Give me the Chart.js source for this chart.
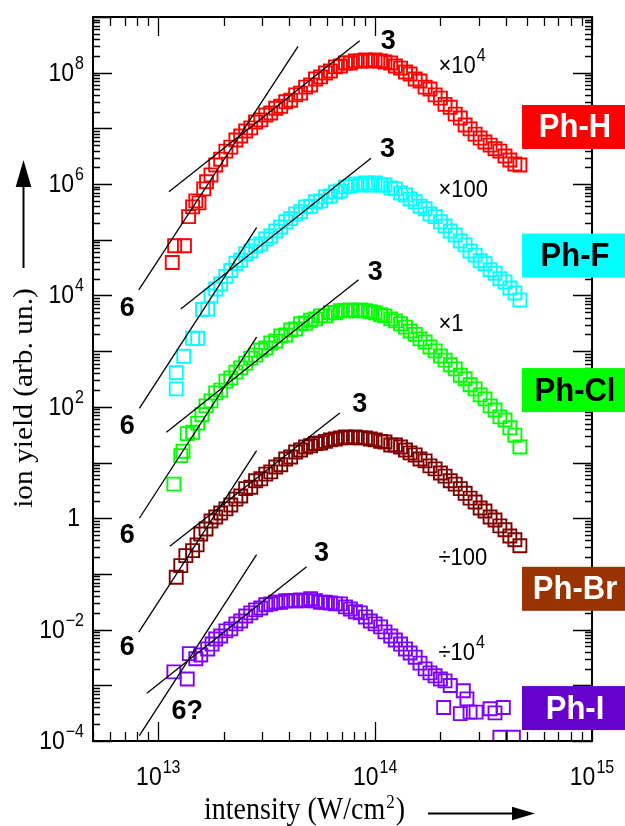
<!DOCTYPE html>
<html>
<head>
<meta charset="utf-8">
<script src="https://cdn.jsdelivr.net/npm/chart.js@4.4.1/dist/chart.umd.min.js"></script>
<style>
  html, body { margin: 0; padding: 0; background: #fff; }
  canvas { display: block; }
</style>
</head>
<body>
<canvas id="grafico" width="625" height="826"></canvas>
<script>
// intensity scan, in units of 1e13 W/cm2
const scanI = [1.75, 1.84, 1.94, 2.05, 2.16, 2.28, 2.40, 2.53, 2.67, 2.81, 2.97, 3.13, 3.30, 3.48, 3.67, 3.87,
  4.08, 4.30, 4.53, 4.78, 5.04, 5.31, 5.60, 5.90, 6.22, 6.56, 6.92, 7.30, 7.69, 8.11, 8.55, 9.02, 9.50, 10.0,
  10.6, 11.1, 11.8, 12.4, 13.1, 13.8, 14.5, 15.3, 16.1, 17.0, 17.9, 18.9, 20.0, 21.0, 22.2, 23.4, 24.7, 26.0,
  27.4, 28.9, 30.5, 32.1, 33.9, 35.7, 37.6, 39.7, 41.8, 44.1, 46.5];

// Ph-H (x 1e4)
const phH_I = [1.16, 1.19, 1.32, 1.38, 1.44, 1.49, 1.54, 1.62, 1.67].concat(scanI);
const phH_Y = [3.9e4, 7.8e4, 7.8e4, 2.6e5, 3.9e5, 5.0e5, 4.6e5, 8.2e5, 1.1e6,
  1.46e6, 2.2e6, 2.8e6, 3.9e6, 4.6e6, 6.2e6, 7.3e6, 9.0e6, 1.02e7, 1.30e7, 1.42e7, 1.74e7, 1.89e7, 2.3e7, 2.5e7,
  3.0e7, 3.2e7, 4.0e7, 4.3e7, 5.5e7, 6.0e7, 7.7e7, 8.4e7, 9.9e7, 1.07e8, 1.27e8, 1.32e8, 1.49e8, 1.49e8, 1.62e8,
  1.62e8, 1.69e8, 1.62e8, 1.69e8, 1.62e8, 1.56e8, 1.49e8, 1.32e8, 1.21e8, 1.03e8, 9.5e7, 7.7e7, 7.1e7, 5.5e7,
  5.1e7, 4.0e7, 3.5e7, 2.7e7, 2.4e7, 1.8e7, 1.54e7, 1.15e7, 9.8e6, 7.9e6, 6.7e6, 5.7e6, 5.0e6, 4.3e6, 3.9e6,
  3.2e6, 2.7e6, 2.3e6, 2.2e6];

// Ph-F (x 100)
const phF_I = [1.21, 1.21, 1.31, 1.44, 1.52, 1.60, 1.69].concat(scanI);
const phF_Y = [2.1e2, 4.1e2, 8.1e2, 1.7e3, 1.7e3, 5.6e3, 5.7e3,
  9.8e3, 1.31e4, 1.61e4, 2.2e4, 2.8e4, 3.8e4, 4.3e4, 5.6e4, 6.3e4, 7.7e4, 8.4e4, 1.03e5, 1.17e5, 1.44e5, 1.70e5,
  2.1e5, 2.4e5, 2.9e5, 3.2e5, 3.9e5, 4.0e5, 4.8e5, 5.0e5, 5.9e5, 6.1e5, 7.2e5, 7.5e5, 8.9e5, 9.2e5, 1.0e6,
  9.6e5, 1.05e6, 9.6e5, 1.05e6, 9.6e5, 9.6e5, 8.5e5, 8.2e5, 6.9e5, 6.4e5, 5.4e5, 4.8e5, 4.0e5, 3.6e5, 2.9e5,
  2.6e5, 2.1e5, 1.77e5, 1.44e5, 1.22e5, 9.5e4, 8.1e4, 6.3e4, 5.3e4, 4.2e4, 3.7e4, 2.9e4, 2.5e4, 2.0e4, 1.75e4,
  1.36e4, 1.11e4, 8.3e3];

// Ph-Cl (x 1)
const phCl_I = [1.18, 1.27, 1.30, 1.36, 1.44, 1.52, 1.59, 1.66].concat(scanI);
const phCl_Y = [4.1, 13.3, 16, 33, 35, 51, 72, 104,
  128, 178, 200, 290, 330, 420, 500, 610, 750, 850, 1050, 1140, 1400, 1520, 1870, 1950, 2400, 2500, 3100, 3200,
  3600, 3800, 4300, 4300, 4900, 4900, 5300, 5300, 5500, 5300, 5500, 5300, 5100, 4900, 4500, 4300, 3800, 3500,
  3100, 2700, 2300, 2000, 1660, 1460, 1190, 1010, 820, 690, 570, 480, 370, 320, 250, 210, 164, 139, 104, 88,
  66, 58, 42, 31, 19];

// Ph-Br (/ 100)
const phBr_I = [1.21, 1.27, 1.34, 1.44, 1.51, 1.57, 1.66].concat(scanI);
const phBr_Y = [0.087, 0.141, 0.213, 0.262, 0.332, 0.52, 0.64,
  0.89, 1.05, 1.24, 1.47, 1.73, 2.2, 2.5, 3.4, 3.6, 4.7, 5.1, 6.2, 6.8, 8.3, 9.1, 11.6, 12.6, 15.5, 16.8, 19,
  20, 22, 22.5, 24, 25.5, 26.5, 27.7, 28.8, 27.7, 28.8, 27.7, 27.7, 26.5, 25.5, 24, 23.4, 20.7, 20.7, 19, 16.8,
  14.9, 13.7, 11.6, 10.7, 8.7, 7.7, 6.5, 5.7, 4.7, 4.1, 3.4, 2.8, 2.3, 1.96, 1.53, 1.35, 1.05, 0.93, 0.73,
  0.62, 0.48, 0.41, 0.32];

// Ph-I (/ 1e4)
const phI_I = [1.18, 1.36, 1.39, 1.49, 1.57, 1.69, 1.77,
  1.84, 1.94, 2.05, 2.16, 2.28, 2.40, 2.53, 2.67, 2.81, 2.97, 3.13, 3.30, 3.48, 3.67, 3.87, 4.08, 4.30, 4.53,
  4.78, 5.04, 5.31, 5.60, 5.90, 6.22, 6.56, 6.92, 7.30, 7.69, 8.11, 8.55, 9.02, 9.50, 10.0, 10.6, 11.1, 11.8,
  12.4, 13.1, 13.8, 14.5, 15.3, 16.1, 17.0, 17.9, 18.9, 20.0, 21.0,
  20.7, 22.2, 24.7, 25.5, 26.5, 27.4, 29.2, 33.9, 35.7, 39.0, 37.6, 43.4];
const phI_Y = [1.74e-3, 1.30e-3, 3.7e-3, 3.0e-3, 3.5e-3, 4.5e-3, 5.5e-3,
  6.8e-3, 7.7e-3, 9.5e-3, 1.03e-2, 1.27e-2, 1.43e-2, 1.76e-2, 2.0e-2, 2.26e-2, 2.45e-2, 2.8e-2, 2.9e-2, 3.1e-2,
  3.1e-2, 3.3e-2, 3.3e-2, 3.3e-2, 3.4e-2, 3.3e-2, 3.6e-2, 3.3e-2, 3.1e-2, 3.1e-2, 3.0e-2, 2.9e-2, 2.9e-2,
  2.56e-2, 2.35e-2, 2.1e-2, 2.0e-2, 1.69e-2, 1.43e-2, 1.27e-2, 1.12e-2, 9.1e-3, 7.7e-3, 6.5e-3, 5.5e-3, 4.5e-3,
  3.8e-3, 3.2e-3, 2.5e-3, 1.97e-3, 1.67e-3, 1.48e-3, 1.30e-3, 1.20e-3,
  4.0e-4, 9.9e-4, 3.1e-4, 8.0e-4, 5.7e-4, 3.3e-4, 3.3e-4, 3.8e-4, 3.2e-4, 4.0e-4, 1.17e-4, 1.17e-4];

// power-law guide lines (slope 6 and slope 3), end points
const fit6_I = [[0.813, 4.41], [0.818, 2.84], [0.818, 2.84], [0.813, 2.84], [0.818, 2.84]];
const fit6_Y = [[1.26e4, 2.98e8], [94, 1.65e5], [1.0, 1.78e3], [8.98e-3, 16.4], [1.25e-4, 0.222]];
const fit3_I = [[1.12, 8.49], [1.27, 9.57], [1.09, 8.39], [1.13, 6.87], [0.885, 4.83]];
const fit3_Y = [[7.3e5, 3.76e8], [5.7e3, 2.9e6], [35, 1.92e4], [0.314, 77.7], [7.2e-4, 0.135]];

const especies = ['Ph-H', 'Ph-F', 'Ph-Cl', 'Ph-Br', 'Ph-I'];
const colores = ['#ff0000', '#00ffff', '#00ff00', '#800000', '#8000ff'];
const cajaColor = ['#ff0000', '#00ffff', '#00ff00', '#993300', '#6600cc'];
const cajaTexto = ['#ffffff', '#000000', '#000000', '#ffffff', '#ffffff'];
const cajaY = [1.06e7, 5.2e4, 2.0e2, 5.4e-2, 3.9e-4];

// scale factors written next to each curve
const factorBase = ['\u00d710', '\u00d7100', '\u00d71', '\u00f7100', '\u00f710'];
const factorExp = ['4', '', '', '', '4'];
const factorY = [9.9e7, 5.8e5, 2.3e3, 0.145, 2.8e-3];
const factorI = 19.6;

// slope labels
const tres_I = [11.5, 11.4, 10.0, 8.5, 5.66];
const tres_Y = [3.9e8, 4.5e6, 2.8e4, 1.17e2, 0.248];
const seis_I = [0.72, 0.72, 0.72, 0.72, 1.36];
const seis_Y = [6.1e3, 47, 0.52, 5.0e-3, 3.6e-4];
const seis_txt = ['6', '6', '6', '6', '6?'];

// tick labels
const yTicks = [1e8, 1e6, 1e4, 1e2, 1, 1e-2, 1e-4];
const yTickExp = ['8', '6', '4', '2', '', '\u22122', '\u22124'];
const xTicks = [1e13, 1e14, 1e15];
const xTickExp = ['13', '14', '15'];

const SANS = '"Liberation Sans", Arial, sans-serif';
const SERIF = '"Liberation Serif", "Times New Roman", serif';
const ESTIRA = 1.1;

function puntos(I, Y) {
  return I.map((v, i) => ({ x: v * 1e13, y: Y[i] }));
}

function texto(ctx, str, x, y, font, align, sy) {
  ctx.save();
  ctx.translate(x, y);
  ctx.scale(1, sy || ESTIRA);
  ctx.font = font;
  ctx.textAlign = align;
  ctx.textBaseline = 'alphabetic';
  ctx.fillText(str, 0, 0);
  ctx.restore();
}

// "10" with a raised exponent
function potencia(ctx, base, exp, x, y, align, fb, fe, sube) {
  ctx.font = fb;
  const wb = ctx.measureText(base).width;
  ctx.font = fe;
  const we = exp ? ctx.measureText(exp).width + 1 : 0;
  const total = wb + we;
  let x0 = x;
  if (align === 'right') x0 = x - total;
  if (align === 'center') x0 = x - total / 2;
  texto(ctx, base, x0, y, fb, 'left');
  if (exp) texto(ctx, exp, x0 + wb + 1, y - sube, fe, 'left');
}

function flecha(ctx, x1, y1, x2, y2, largo, ancho) {
  const ang = Math.atan2(y2 - y1, x2 - x1);
  const bx = x2 - largo * Math.cos(ang), by = y2 - largo * Math.sin(ang);
  ctx.beginPath();
  ctx.moveTo(x1, y1);
  ctx.lineTo(bx, by);
  ctx.stroke();
  ctx.beginPath();
  ctx.moveTo(x2, y2);
  ctx.lineTo(bx - ancho * Math.sin(ang), by + ancho * Math.cos(ang));
  ctx.lineTo(bx + ancho * Math.sin(ang), by - ancho * Math.cos(ang));
  ctx.closePath();
  ctx.fill();
}

const dibujo = {
  id: 'dibujo',
  afterDatasetsDraw(chart) {
    const ctx = chart.ctx;
    const a = chart.chartArea;
    const xs = chart.scales.x, ys = chart.scales.y;
    ctx.save();
    ctx.strokeStyle = '#000';
    ctx.fillStyle = '#000';

    // ticks on all four sides
    ctx.lineWidth = 1.3;
    ctx.beginPath();
    for (let e = 12; e <= 15; e++) {
      for (let m = 1; m <= 9; m++) {
        const v = m * Math.pow(10, e);
        if (v < xs.min * 0.999 || v > xs.max * 1.001) continue;
        const px = Math.round(xs.getPixelForValue(v)) + 0.5;
        const l = m === 1 ? 19 : 9;
        ctx.moveTo(px, a.bottom); ctx.lineTo(px, a.bottom - l);
        ctx.moveTo(px, a.top); ctx.lineTo(px, a.top + l);
      }
    }
    for (let e = -4; e <= 9; e++) {
      for (let m = 1; m <= 9; m++) {
        const v = m * Math.pow(10, e);
        if (v < ys.min * 0.999 || v > ys.max * 1.001) continue;
        const py = Math.round(ys.getPixelForValue(v)) + 0.5;
        const l = m === 1 ? 19 : 7;
        ctx.moveTo(a.left, py); ctx.lineTo(a.left + l, py);
        ctx.moveTo(a.right, py); ctx.lineTo(a.right - l, py);
      }
    }
    ctx.stroke();

    // frame
    ctx.lineWidth = 2;
    ctx.strokeRect(a.left, a.top, a.right - a.left, a.bottom - a.top);

    // tick labels
    const fb = '23px ' + SANS, fe = '16px ' + SANS;
    yTicks.forEach((v, i) => {
      const py = ys.getPixelForValue(v);
      if (yTickExp[i]) potencia(ctx, '10', yTickExp[i], 84, py + 8, 'right', fb, fe, 12);
      else potencia(ctx, '1', '', 80, py + 8, 'right', fb, fe, 12);
    });
    xTicks.forEach((v, i) => {
      const px = xs.getPixelForValue(v);
      potencia(ctx, '10', xTickExp[i], px, 785, 'center', fb, fe, 12);
    });

    // slope labels
    const fn = 'bold 27px ' + SANS;
    tres_I.forEach((v, i) => {
      texto(ctx, '3', xs.getPixelForValue(v * 1e13), ys.getPixelForValue(tres_Y[i]) + 9, fn, 'center', 1.02);
    });
    seis_I.forEach((v, i) => {
      texto(ctx, seis_txt[i], xs.getPixelForValue(v * 1e13), ys.getPixelForValue(seis_Y[i]) + 9, fn, 'center', 1.02);
    });

    // scale factors
    const ff = '22px ' + SANS;
    factorBase.forEach((b, i) => {
      potencia(ctx, b, factorExp[i], xs.getPixelForValue(factorI * 1e13), ys.getPixelForValue(factorY[i]), 'left', ff, fe, 12);
    });

    // coloured name boxes on the right
    const cx0 = 522;
    especies.forEach((n, i) => {
      const cy = ys.getPixelForValue(cajaY[i]);
      ctx.fillStyle = cajaColor[i];
      ctx.fillRect(cx0, cy - 22, chart.width - cx0, 44);
      ctx.fillStyle = cajaTexto[i];
      texto(ctx, n, 575, cy + 10.5, 'bold 31px ' + SANS, 'center');
    });
    ctx.fillStyle = '#000';

    // axis titles
    const ft = '28px ' + SERIF;
    ctx.font = ft;
    const t1 = 'intensity (W/cm';
    const w1 = ctx.measureText(t1).width;
    texto(ctx, t1, 204, 819, ft, 'left');
    texto(ctx, '2', 204 + w1 + 1, 808, '17px ' + SERIF, 'left');
    ctx.font = '17px ' + SERIF;
    const w2 = ctx.measureText('2').width;
    texto(ctx, ')', 204 + w1 + w2 + 2, 819, ft, 'left');

    ctx.save();
    ctx.translate(32, 398);
    ctx.rotate(-Math.PI / 2);
    ctx.scale(1.05, 1);
    ctx.font = ft;
    ctx.textAlign = 'center';
    ctx.fillText('ion yield (arb. un.)', 0, 0);
    ctx.restore();

    ctx.lineWidth = 2;
    flecha(ctx, 23.5, 268, 23.5, 160, 27, 7.8);
    flecha(ctx, 428, 813.5, 535, 813.5, 23, 6.7);

    ctx.restore();
  }
};

const conjuntos = [];
// guide lines first so they sit on top of the markers
for (let i = 0; i < especies.length; i++) {
  [[fit6_I, fit6_Y], [fit3_I, fit3_Y]].forEach(([fi, fy]) => {
    conjuntos.push({
      data: puntos(fi[i], fy[i]),
      showLine: true,
      borderColor: '#000',
      borderWidth: 1.3,
      pointRadius: 0,
      order: 0,
      clip: 0
    });
  });
}
const series = [[phH_I, phH_Y], [phF_I, phF_Y], [phCl_I, phCl_Y], [phBr_I, phBr_Y], [phI_I, phI_Y]];
series.forEach(([I, Y], i) => {
  conjuntos.push({
    label: especies[i],
    data: puntos(I, Y),
    showLine: false,
    pointStyle: 'rect',
    pointRadius: 9.2,
    pointBorderWidth: 1.9,
    pointBorderColor: colores[i],
    pointBackgroundColor: 'rgba(0,0,0,0)',
    borderColor: colores[i],
    backgroundColor: 'rgba(0,0,0,0)',
    order: 1,
    clip: 0
  });
});

new Chart(document.getElementById('grafico'), {
  type: 'scatter',
  data: { datasets: conjuntos },
  options: {
    responsive: false,
    animation: false,
    devicePixelRatio: 1,
    layout: { padding: { left: 93, top: 17, right: 33, bottom: 85 } },
    plugins: { legend: { display: false }, tooltip: { enabled: false } },
    scales: {
      x: { type: 'logarithmic', min: 5e12, max: 1e15, display: false },
      y: { type: 'logarithmic', min: 1e-4, max: 1e9, display: false }
    }
  },
  plugins: [dibujo]
});
</script>
</body>
</html>
